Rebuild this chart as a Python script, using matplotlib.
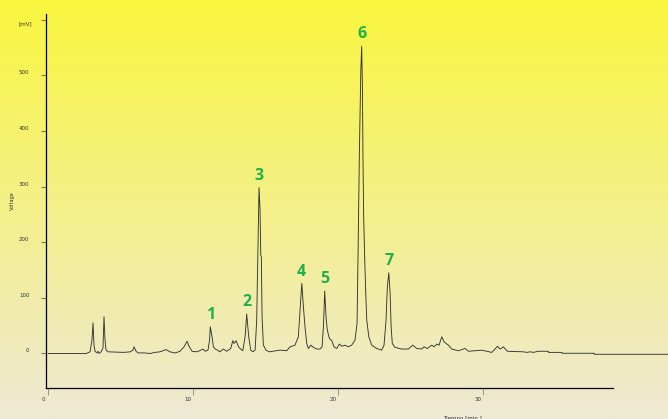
import numpy as np
import matplotlib
matplotlib.use('Agg')
import matplotlib.pyplot as plt
from matplotlib.transforms import ScaledTranslation

# chromatogram trace (time in min, signal in mV)
time_min = [0.0, 2.62, 2.90, 3.03, 3.10, 3.17, 3.24, 3.38, 3.45, 3.52, 3.66, 3.79, 3.86, 3.93, 4.00,
            4.14, 5.24, 5.66, 5.86, 5.93, 6.07, 6.21, 6.69, 7.03, 7.38, 7.72, 8.14, 8.41, 8.76,
            9.10, 9.38, 9.59, 9.72, 9.93, 10.28, 10.69, 10.83, 11.03, 11.14, 11.19, 11.31, 11.40,
            11.54, 11.68, 11.86, 12.09, 12.32, 12.60, 12.74, 12.83, 12.97, 13.12, 13.24, 13.43,
            13.59, 13.70, 13.84, 13.98, 14.12, 14.28, 14.39, 14.46, 14.55, 14.62, 14.67, 14.71,
            14.76, 14.85, 15.03, 15.26, 16.00, 16.46, 16.69, 17.03, 17.26, 17.38, 17.50, 17.61,
            17.72, 17.84, 17.95, 18.12, 18.30, 18.53, 18.76, 18.90, 18.99, 19.08, 19.17, 19.26,
            19.40, 19.57, 19.72, 19.91, 20.09, 20.26, 20.48, 20.71, 20.94, 21.17, 21.31, 21.38,
            21.47, 21.57, 21.63, 21.68, 21.72, 21.77, 21.84, 21.91, 21.98, 22.12, 22.32, 22.67,
            23.01, 23.17, 23.31, 23.40, 23.50, 23.59, 23.66, 23.74, 23.93, 24.39, 24.85, 25.15,
            25.43, 25.77, 25.93, 26.16, 26.46, 26.62, 26.81, 26.97, 27.15, 27.31, 27.45, 27.61,
            27.84, 28.30, 28.76, 28.99, 29.91, 30.26, 30.60, 30.76, 30.99, 31.17, 31.40, 31.68,
            32.78, 33.01, 33.24, 33.47, 33.81, 34.50, 34.51, 35.43, 35.44, 37.66, 37.67, 42.8]
signal_mv = [0, 0, 3, 24, 55, 15, 4, 1, 4, 0, 3, 10, 66, 24, 6,
             3, 2, 3, 6, 12, 4, 1, 1, 0, 2, 3, 7, 3, 1,
             4, 12, 22, 13, 4, 3, 8, 4, 6, 24, 48, 30, 12,
             8, 6, 3, 8, 4, 9, 23, 18, 23, 13, 9, 5,
             30, 71, 30, 6, 3, 6, 60, 168, 298, 258, 177, 174,
             66, 15, 6, 3, 6, 5, 12, 15, 30, 78, 126, 84,
             48, 18, 9, 15, 11, 8, 8, 12, 48, 112, 66, 42,
             27, 23, 12, 9, 17, 13, 15, 12, 15, 24, 54, 180,
             360, 509, 552, 479, 347, 240, 168, 108, 60, 30, 15, 9,
             6, 15, 60, 120, 145, 108, 48, 18, 11, 8, 8, 15,
             9, 8, 12, 9, 15, 12, 17, 15, 30, 21, 18, 15,
             8, 5, 9, 4, 6, 4, 2, 6, 13, 8, 12, 4,
             3, 2, 3, 2, 4, 4, 2, 2, 0.4, 0.4, -1.4, -1.4]

# numbered peaks
peak_labels = ['1', '2', '3', '4', '5', '6', '7']
peak_times = [11.19, 13.70, 14.55, 17.50, 19.08, 21.63, 23.50]

x_ticks = [0, 10, 20, 30]
y_ticks = [0, 100, 200, 300, 400, 500]

W, H = 668, 419
fig = plt.figure(figsize=(W / 100, H / 100), dpi=100)

# yellow to cream background gradient
bg = fig.add_axes([0, 0, 1, 1], zorder=0)
top_col = np.array([250, 246, 62]) / 255
bot_col = np.array([238, 233, 213]) / 255
g = np.linspace(0, 1, 256)[:, None, None]
bg.imshow(top_col + (bot_col - top_col) * g, aspect='auto', extent=[0, 1, 0, 1])
bg.axis('off')

ax = fig.add_axes([46 / W, (H - 388) / H, (613 - 46) / W, (388 - 14) / H], zorder=1)
ax.set_facecolor('none')

t = np.array(time_min)
v = np.array(signal_mv)
ax.plot(t, v, color='#333333', lw=0.65, clip_on=False)

ax.set_xlim(-0.14, 38.96)
ax.set_ylim(-62, 610)

for s in ['top', 'right']:
    ax.spines[s].set_visible(False)
for s in ['left', 'bottom']:
    ax.spines[s].set_linewidth(0.9)
    ax.spines[s].set_color('black')

ax.set_xticks(x_ticks)
ax.set_yticks(y_ticks + [600])
ax.set_yticklabels([str(y) for y in y_ticks] + [''])
ax.tick_params(axis='x', length=5, width=0.6, color='#888888', labelsize=4,
               labelcolor='#333333', pad=1.5)
ax.tick_params(axis='y', length=3.6, width=0.8, color='#777777', labelsize=4,
               labelcolor='#333333', pad=8.3)

# labels in the original sit a little off their ticks
for lab in ax.get_xticklabels():
    lab.set_transform(lab.get_transform() + ScaledTranslation(-5 / 100, 0, fig.dpi_scale_trans))
for lab in ax.get_yticklabels():
    lab.set_transform(lab.get_transform() + ScaledTranslation(0, 3 / 100, fig.dpi_scale_trans))

fig.text(25 / W, 1 - 24 / H, '[mV]', fontsize=4, color='#333333', ha='center', va='center')
fig.text(12 / W, 1 - 201 / H, 'Voltage', fontsize=3.6, color='#333333', rotation=90,
         ha='center', va='center')
fig.text(462 / W, 1 - 418 / H, 'Tiempo [min.]', fontsize=4, color='#333333',
         ha='center', va='center')

# green peak numbers just above each apex
for lab, pt in zip(peak_labels, peak_times):
    near = np.abs(t - pt) < 0.12
    i = np.argmax(np.where(near, v, -1e9))
    ax.annotate(lab, (t[i], v[i]), xytext=(0, 8.5), textcoords='offset points',
                ha='center', va='center', fontsize=11.5, fontweight='bold',
                color='#1fb04e', family='Open Sans')

fig.savefig('out.png', dpi=100)
